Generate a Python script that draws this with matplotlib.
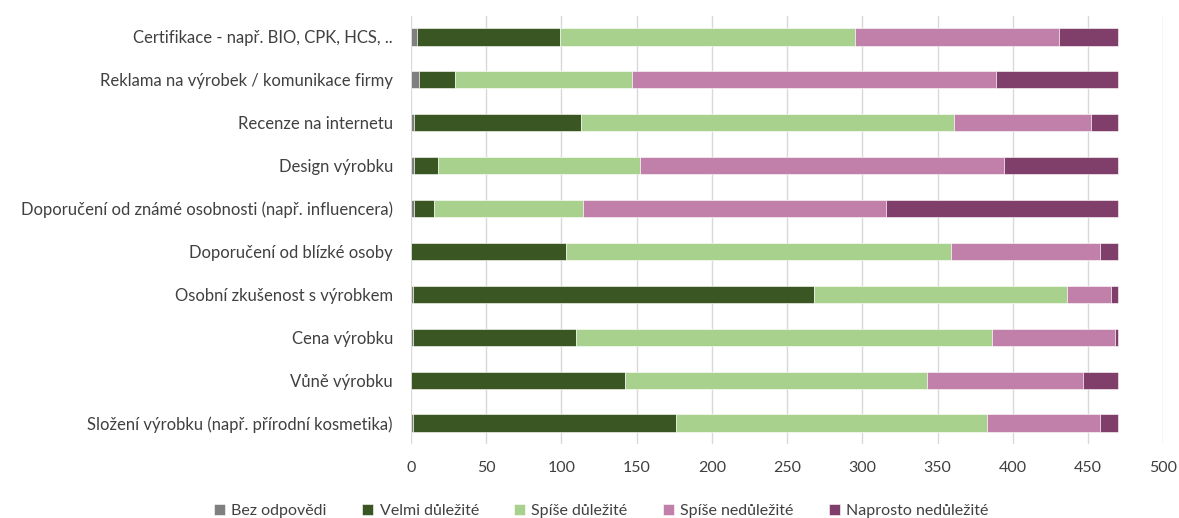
import numpy as np
import matplotlib
matplotlib.use("Agg")
import matplotlib.pyplot as plt

plt.rcParams['font.family'] = ['Lato', 'DejaVu Sans']

# faktory odspodu nahoru (v grafu se kreslí zdola)
faktory = [
    "Složení výrobku (např. přírodní kosmetika)",
    "Vůně výrobku",
    "Cena výrobku",
    "Osobní zkušenost s výrobkem",
    "Doporučení od blízké osoby",
    "Doporučení od známé osobnosti (např. influencera)",
    "Design výrobku",
    "Recenze na internetu",
    "Reklama na výrobek / komunikace firmy",
    "Certifikace - např. BIO, CPK, HCS, ..",
]

bez_odpovedi = [1, 0, 1, 1, 0, 2, 2, 2, 5, 4]
velmi_dulezite = [175, 142, 109, 267, 103, 13, 16, 111, 24, 95]
spise_dulezite = [207, 201, 276, 168, 256, 99, 134, 248, 118, 196]
spise_nedulezite = [75, 104, 82, 29, 99, 202, 242, 91, 242, 136]
naprosto_nedulezite = [12, 23, 2, 5, 12, 154, 76, 18, 81, 39]

serie = [
    ("Bez odpovědi", bez_odpovedi, "#7f7f7f"),
    ("Velmi důležité", velmi_dulezite, "#3a5623"),
    ("Spíše důležité", spise_dulezite, "#a9d18e"),
    ("Spíše nedůležité", spise_nedulezite, "#c080a9"),
    ("Naprosto nedůležité", naprosto_nedulezite, "#7f3f6a"),
]

fig = plt.figure(figsize=(11.79, 5.18), dpi=100)
ax = fig.add_axes([0.3486, 0.142, 0.638, 0.828])

y = np.arange(len(faktory))
left = np.zeros(len(faktory))
for nazev, hodnoty, barva in serie:
    ax.barh(y, hodnoty, left=left, height=0.4, color=barva, label=nazev,
            edgecolor="white", linewidth=0.4, zorder=3)
    left += np.array(hodnoty)

ax.set_xlim(0, 500)
ax.set_ylim(-0.5, len(faktory) - 0.5)
ax.set_xticks(np.arange(0, 501, 50))
ax.set_yticks(y)
ax.set_yticklabels(faktory, fontsize=12)

ax.grid(axis="x", color="#d9d9d9", linewidth=1, zorder=0)
for s in ax.spines.values():
    s.set_visible(False)
ax.tick_params(length=0, labelsize=11.5, colors="#404040")
ax.tick_params(axis="y", pad=13, labelsize=12)
ax.tick_params(axis="x", pad=12)

ax.legend(loc="center", bbox_to_anchor=(0.253, -0.155), ncol=5,
          frameon=False, fontsize=11.5, handlelength=0.7, handleheight=0.7,
          handletextpad=0.4, columnspacing=2.2, labelcolor="#404040")

fig.savefig("out.png", dpi=100)
